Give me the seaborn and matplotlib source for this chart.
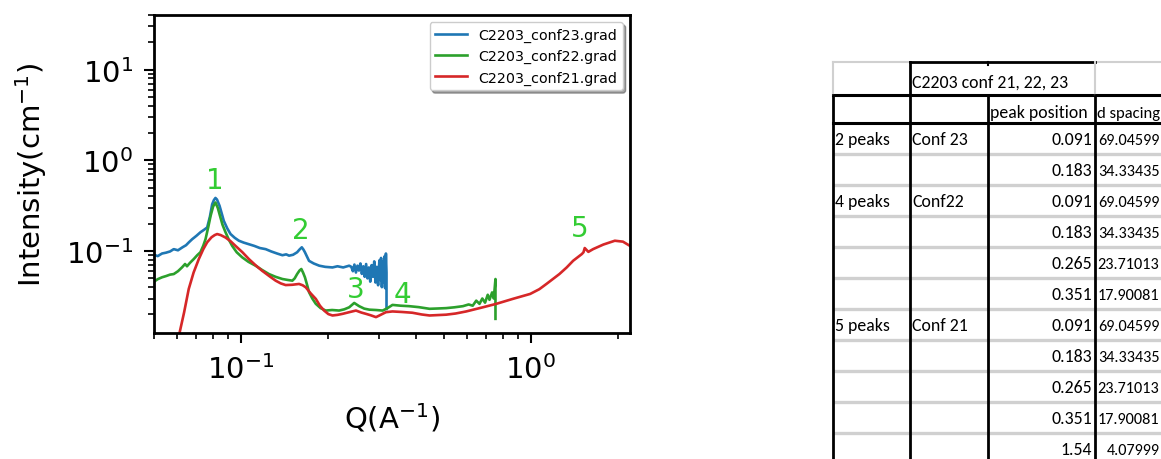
import numpy as np
import pandas as pd
import matplotlib
matplotlib.use("Agg")
import matplotlib.pyplot as plt
import seaborn as sns
from matplotlib import font_manager

# ---------------- data ----------------
q23 = [0.0500, 0.0515, 0.0533, 0.0550, 0.0568, 0.0585, 0.0605, 0.0627, 0.0645, 0.0660,
       0.0677, 0.0700, 0.0723, 0.0745, 0.0763, 0.0780, 0.0794, 0.0805, 0.0815, 0.0825,
       0.0842, 0.0858, 0.0871, 0.0895, 0.0919, 0.0950, 0.0982, 0.1020, 0.1063, 0.1110,
       0.1160, 0.1215, 0.1270, 0.1330, 0.1388, 0.1430, 0.1463, 0.1510, 0.1560, 0.1590,
       0.1619, 0.1640, 0.1660, 0.1690, 0.1715, 0.1780, 0.1860, 0.1950, 0.2066, 0.2150,
       0.2250, 0.2360, 0.240, 0.243, 0.246, 0.249, 0.252, 0.255, 0.258, 0.261, 0.264,
       0.267, 0.270, 0.273, 0.276, 0.279, 0.282, 0.285, 0.288, 0.291, 0.294, 0.297,
       0.300, 0.302, 0.304, 0.306, 0.308, 0.310, 0.312, 0.314, 0.316, 0.3175, 0.3175]
i23 = [0.091, 0.088, 0.094, 0.096, 0.099, 0.105, 0.102, 0.110, 0.116, 0.125,
       0.135, 0.147, 0.161, 0.172, 0.182, 0.240, 0.328, 0.365, 0.385, 0.370,
       0.315, 0.255, 0.215, 0.178, 0.154, 0.140, 0.130, 0.124, 0.119, 0.114,
       0.108, 0.105, 0.099, 0.094, 0.090, 0.092, 0.089, 0.091, 0.097, 0.104,
       0.110, 0.104, 0.097, 0.086, 0.078, 0.073, 0.069, 0.067, 0.066, 0.068,
       0.066, 0.069, 0.067, 0.060, 0.071, 0.058, 0.069, 0.061, 0.073, 0.056, 0.068,
       0.052, 0.072, 0.050, 0.066, 0.046, 0.070, 0.052, 0.077, 0.045, 0.067, 0.042,
       0.079, 0.048, 0.084, 0.040, 0.076, 0.045, 0.087, 0.039, 0.094, 0.058, 0.023]

q22 = [0.0500, 0.0515, 0.0533, 0.0550, 0.0568, 0.0585, 0.0605, 0.0625, 0.0640, 0.0650,
       0.0665, 0.0686, 0.0705, 0.0723, 0.0740, 0.0753, 0.0770, 0.0784, 0.0800, 0.0815,
       0.0830, 0.0845, 0.0862, 0.0883, 0.0905, 0.0931, 0.0965, 0.1008, 0.1060, 0.1121,
       0.1180, 0.1247, 0.1315, 0.1388, 0.1450, 0.1502, 0.1530, 0.1560, 0.1590, 0.1613,
       0.1635, 0.1660, 0.1690, 0.1715, 0.1760, 0.1810, 0.1880, 0.1958, 0.2060, 0.2178,
       0.2270, 0.2360, 0.2456, 0.2554, 0.2660, 0.2770, 0.2920, 0.3080, 0.3200, 0.3330,
       0.3550, 0.3800, 0.4100, 0.4470, 0.4800, 0.5100, 0.5450, 0.5830, 0.6100, 0.6300,
       0.6480, 0.6650, 0.6800, 0.6950, 0.7100, 0.7200, 0.7350, 0.7450, 0.7550, 0.7550]
i22 = [0.046, 0.049, 0.0514, 0.053, 0.055, 0.0558, 0.060, 0.0662, 0.072, 0.068,
       0.074, 0.0817, 0.090, 0.097, 0.115, 0.135, 0.185, 0.244, 0.310, 0.343,
       0.300, 0.244, 0.195, 0.161, 0.135, 0.114, 0.097, 0.0853, 0.076, 0.069,
       0.062, 0.0558, 0.052, 0.0492, 0.048, 0.0472, 0.050, 0.0558, 0.061, 0.0634,
       0.058, 0.0514, 0.042, 0.0352, 0.030, 0.0262, 0.0235, 0.0221, 0.0224, 0.0221,
       0.0228, 0.024, 0.0268, 0.0247, 0.0232, 0.0226, 0.0224, 0.0221, 0.0235, 0.0255,
       0.0250, 0.0247, 0.0241, 0.0231, 0.0233, 0.0235, 0.0240, 0.0247, 0.0258, 0.0250,
       0.0284, 0.0262, 0.0300, 0.0270, 0.0330, 0.0290, 0.0350, 0.0300, 0.0492, 0.0179]

q21 = [0.0605, 0.0617, 0.0635, 0.0659, 0.0685, 0.0714, 0.0740, 0.0763, 0.0790, 0.0810,
       0.0826, 0.0850, 0.0883, 0.0920, 0.0956, 0.1010, 0.1063, 0.1120, 0.1180, 0.1250,
       0.1315, 0.1370, 0.1424, 0.1500, 0.1584, 0.1630, 0.1670, 0.1740, 0.1810, 0.1870,
       0.1933, 0.2000, 0.2066, 0.2150, 0.2235, 0.2360, 0.2490, 0.2600, 0.2700, 0.2800,
       0.2920, 0.3000, 0.3160, 0.3330, 0.3600, 0.3900, 0.4200, 0.4470, 0.5100, 0.5500,
       0.5980, 0.6830, 0.7600, 0.8660, 0.9950, 1.0700, 1.1320, 1.2550, 1.3300, 1.4000,
       1.5000, 1.5200, 1.5350, 1.5800, 1.6400, 1.7800, 1.9500, 2.0800, 2.2000]
i21 = [0.0105, 0.0139, 0.021, 0.0382, 0.058, 0.0817, 0.105, 0.125, 0.142, 0.150,
       0.154, 0.150, 0.141, 0.128, 0.114, 0.097, 0.0817, 0.070, 0.0608, 0.053,
       0.0472, 0.0440, 0.0422, 0.0425, 0.0434, 0.0420, 0.0399, 0.034, 0.0297, 0.025,
       0.0221, 0.0202, 0.0195, 0.0198, 0.0203, 0.0212, 0.0221, 0.0210, 0.0203, 0.0196,
       0.0187, 0.0195, 0.0212, 0.0216, 0.0213, 0.0209, 0.0200, 0.0195, 0.0199, 0.0205,
       0.0216, 0.0240, 0.0262, 0.0297, 0.0337, 0.038, 0.0434, 0.0558, 0.066, 0.0782,
       0.0927, 0.097, 0.108, 0.098, 0.105, 0.118, 0.130, 0.127, 0.114]

series_labels = ["C2203_conf23.grad", "C2203_conf22.grad", "C2203_conf21.grad"]
series_colors = ["#1f77b4", "#2ca02c", "#d62728"]

peak_labels = ["1", "2", "3", "4", "5"]
peak_q = [0.0811, 0.161, 0.249, 0.359, 1.47]
peak_i = [0.50, 0.141, 0.031, 0.0273, 0.145]

# table contents
tbl_title = "C2203 conf 21, 22, 23"
tbl_headers = ["peak position", "d spacing"]
tbl_groups = ["2 peaks", "", "4 peaks", "", "", "", "5 peaks", "", "", "", ""]
tbl_confs = ["Conf 23", "", "Conf22", "", "", "", "Conf 21", "", "", "", ""]
tbl_peak = ["0.091", "0.183", "0.091", "0.183", "0.265", "0.351",
            "0.091", "0.183", "0.265", "0.351", "1.54"]
tbl_d = ["69.04599", "34.33435", "69.04599", "34.33435", "23.71013", "17.90081",
         "69.04599", "34.33435", "23.71013", "17.90081", "4.07999"]

# ---------------- figure ----------------
W, H = 1161, 460
fig = plt.figure(figsize=(W / 100, H / 100), dpi=100)
fig.patch.set_facecolor("white")

ax = fig.add_axes([154 / W, (H - 334) / H, (630 - 154) / W, (334 - 16) / H])
ax.set_xscale("log")
ax.set_yscale("log")

for q, i, lab, col in zip([q23, q22, q21], [i23, i22, i21], series_labels, series_colors):
    df = pd.DataFrame({"Q": q, "I": i})
    sns.lineplot(data=df, x="Q", y="I", ax=ax, color=col, lw=1.9, label=lab,
                 estimator=None, sort=False)

ax.set_xlim(0.05, 2.2)
ax.set_ylim(0.0125, 40)

for t, q, i in zip(peak_labels, peak_q, peak_i):
    ax.text(q, i, t, color="#33cc33", fontsize=20, ha="center", va="baseline")

ax.set_xlabel("Q(A$^{-1}$)", fontsize=21, labelpad=12)
ax.set_ylabel("Intensity(cm$^{-1}$)", fontsize=21, labelpad=12)
ax.tick_params(which="major", length=7, width=1.5, labelsize=21, pad=8, direction="out")
ax.tick_params(which="minor", length=4.5, width=1.2, direction="out")
for s in ax.spines.values():
    s.set_linewidth(2)
    s.set_color("black")

leg = ax.legend(loc="upper right", shadow=True, fontsize=10.3, handlelength=2.2)

# ---------------- table (spreadsheet snapshot) ----------------
avail = {f.name for f in font_manager.fontManager.ttflist}
if "Carlito" in avail:
    tfont, fs, fs_h, fs_d = "Carlito", 12.8, 12.0, 11.7
elif "Liberation Sans Narrow" in avail:
    tfont, fs, fs_h, fs_d = "Liberation Sans Narrow", 12.5, 11.8, 11.4
else:
    tfont, fs, fs_h, fs_d = "Liberation Sans", 11, 10.5, 10.2

tab = fig.add_axes([0, 0, 1, 1])
tab.set_xlim(0, W)
tab.set_ylim(H, 0)
tab.axis("off")

cx = [833, 910, 987.5, 1095]
y_top, y_h1, y_h2 = 62.5, 95.5, 123.5
row_h = 31
n = len(tbl_peak)
row_edges = [y_h2 + row_h * k for k in range(n + 1)]
gray = "#d0d0d0"
blk = "black"

# gray separators between data rows
for y in row_edges[1:]:
    tab.plot([cx[0], W], [y, y], color=gray, lw=2.4, solid_capstyle="butt")
# top border
tab.plot([cx[0], cx[1]], [y_top, y_top], color=gray, lw=1.5)
tab.plot([cx[3], W], [y_top, y_top], color=gray, lw=1.5)
tab.plot([cx[1], cx[3]], [y_top, y_top], color=blk, lw=2)
# thick header rules
tab.plot([cx[0], W], [y_h1, y_h1], color=blk, lw=2.2)
tab.plot([cx[0], W], [y_h2, y_h2], color=blk, lw=2.2)
# verticals
tab.plot([cx[0], cx[0]], [y_top, y_h1], color=gray, lw=1.5)
tab.plot([cx[3], cx[3]], [y_top, y_h1], color=gray, lw=1.5)
tab.plot([cx[1], cx[1]], [y_top, H], color=blk, lw=2)
tab.plot([cx[2], cx[2]], [y_top, y_top + 3], color=blk, lw=1.5)
for x in [cx[0], cx[2], cx[3]]:
    tab.plot([x, x], [y_h1, H], color=blk, lw=2)

tab.text(cx[1] + 2.5, y_h1 - 7.5, tbl_title, fontsize=fs, family=tfont, va="baseline")
tab.text(cx[2] + 2, y_h2 - 5.5, tbl_headers[0], fontsize=fs, family=tfont, va="baseline")
tab.text(cx[3] + 2, y_h2 - 5.5, tbl_headers[1], fontsize=fs_h, family=tfont, va="baseline")
for k in range(n):
    yb = (row_edges[k] + row_edges[k + 1]) / 2 + 6.5
    if tbl_groups[k]:
        tab.text(cx[0] + 2, yb, tbl_groups[k], fontsize=fs, family=tfont, va="baseline")
    if tbl_confs[k]:
        tab.text(cx[1] + 2, yb, tbl_confs[k], fontsize=fs, family=tfont, va="baseline")
    tab.text(cx[3] - 3, yb, tbl_peak[k], fontsize=fs, family=tfont, va="baseline", ha="right")
    tab.text(W - 1.5, yb, tbl_d[k], fontsize=fs_d, family=tfont, va="baseline", ha="right")

fig.savefig("out.png", dpi=100, facecolor="white")
